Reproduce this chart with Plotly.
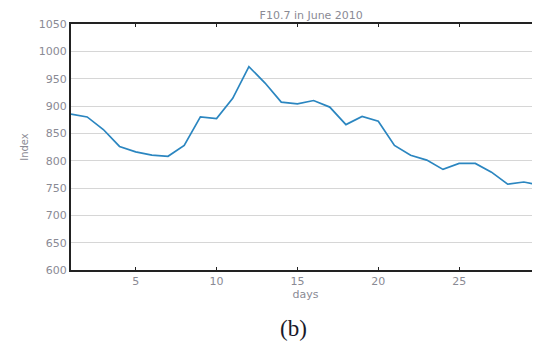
import plotly.graph_objects as go

days = list(range(1, 31))
f107 = [885, 880, 857, 826, 816, 810, 808, 828, 880, 877,
        914, 972, 942, 907, 904, 910, 898, 866, 881, 872,
        828, 810, 801, 784, 795, 795, 779, 757, 761, 755]

title_text = "F10.7 in June 2010"
x_label = "days"
y_label = "Index"
panel_label = "(b)"
x_ticks = [5, 10, 15, 20, 25, 30]
y_ticks = [600, 650, 700, 750, 800, 850, 900, 950, 1000, 1050]

txt = "#8a8a94"
fig = go.Figure()
fig.add_trace(go.Scatter(x=days, y=f107, mode="lines",
                         line=dict(color="#2b86c0", width=1.7)))

fig.update_layout(
    width=532, height=337,
    margin=dict(l=63, r=0, t=16, b=75, autoexpand=False),
    paper_bgcolor="white", plot_bgcolor="white",
    showlegend=False,
    font=dict(family="DejaVu Sans, sans-serif", size=11, color=txt),
    title=dict(text=title_text, x=0.57, xanchor="center", y=0.978, yanchor="middle",
               font=dict(size=11, color=txt)),
)
fig.update_xaxes(range=[1, 30], tickvals=x_ticks, ticks="inside", ticklen=3,
                 tickcolor="#222", showgrid=False, showline=True, linecolor="#222",
                 linewidth=2, mirror="ticks", zeroline=False, automargin=False,
                 ticklabeloverflow="allow",
                 title=dict(text=x_label, font=dict(size=11, color=txt), standoff=2))
fig.update_yaxes(range=[600, 1050], tickvals=y_ticks, ticks="", showgrid=True,
                 gridcolor="#d6d6d6", gridwidth=1, showline=True, linecolor="#222",
                 linewidth=2, zeroline=False, automargin=False,
                 title=dict(text=y_label, font=dict(size=10, color=txt), standoff=8))
fig.add_annotation(text=panel_label, x=0.475, y=-0.236, xref="paper", yref="paper",
                   yanchor="middle", showarrow=False,
                   font=dict(family="Liberation Serif, serif", size=23, color="#1a1a2a"))

fig.write_html("out.html")
